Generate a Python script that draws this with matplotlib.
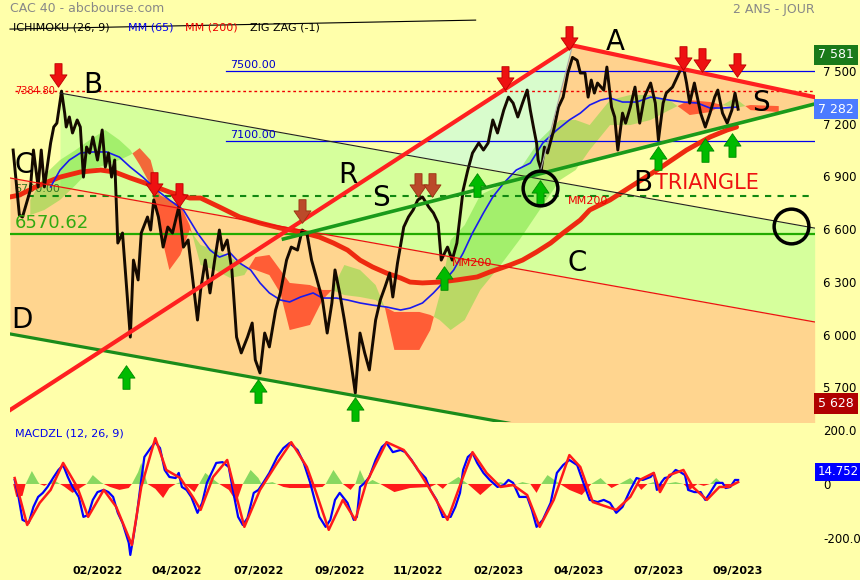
import matplotlib
matplotlib.use('Agg')
import matplotlib.pyplot as plt
import numpy as np
from matplotlib.path import Path

# cours de cloture (index de seance, points)
price_days = [2, 6, 8, 13, 15, 18, 20, 22, 26, 28, 30, 33, 35, 36, 38, 40, 43, 45, 47, 49,
              51, 53, 56, 59, 61, 63, 65, 67, 69, 72, 77, 79, 82, 84, 88, 90, 92, 95, 98, 101,
              104, 108, 111, 114, 116, 120, 122, 125, 128, 131, 134, 136, 139, 142, 145, 148, 152, 155, 157, 160,
              163, 166, 170, 173, 177, 180, 184, 187, 190, 193, 196, 200, 203, 206, 208, 211, 214, 218, 221, 224,
              227, 230, 234, 237, 240, 243, 245, 248, 252, 255, 258, 261, 264, 268, 271, 274, 276, 280, 283, 286,
              288, 290, 293, 296, 300, 303, 306, 309, 312, 316, 319, 322, 325, 328, 331, 333, 335, 337, 338, 340,
              342, 344, 348, 351, 354, 357, 360, 363, 365, 368, 370, 372, 374, 376, 380, 382, 385, 387, 389, 392,
              394, 397, 400, 403, 406, 410, 413, 415, 418, 420, 424, 427, 429, 431, 433, 435, 438, 442, 445, 448,
              451, 453, 456, 459, 462, 464, 466]
price_close = [7050, 6680, 6669, 6822, 7050, 6840, 7050, 6840, 7090, 7181, 7203, 7385, 7260, 7181, 7238, 7147, 7221, 7181, 6896, 7067,
               7033, 7124, 6993, 7164, 6953, 7033, 6896, 6993, 6521, 6578, 5986, 6424, 6311, 6578, 6669, 6595, 6766, 6669, 6498, 6612,
               6578, 6726, 6498, 6538, 6385, 6083, 6254, 6424, 6237, 6424, 6595, 6481, 6538, 6368, 5986, 5896, 5986, 6066, 5856, 5782,
               6009, 5930, 6140, 6237, 6424, 6498, 6481, 6595, 6578, 6424, 6328, 6197, 6009, 6180, 6368, 6237, 6083, 5856, 5668, 6009,
               5896, 5799, 6083, 6197, 6271, 6350, 6214, 6407, 6612, 6669, 6709, 6766, 6783, 6726, 6692, 6635, 6424, 6498, 6424, 6521,
               6669, 6822, 6936, 7033, 7090, 7050, 7090, 7221, 7147, 7277, 7351, 7317, 7238, 7317, 7391, 7277, 7181, 7090, 6993, 6936,
               7067, 7033, 7164, 7294, 7351, 7488, 7577, 7560, 7488, 7488, 7351, 7448, 7374, 7431, 7391, 7522, 7294, 7238, 7050, 7260,
               7203, 7294, 7408, 7203, 7351, 7431, 7317, 7107, 7317, 7374, 7408, 7465, 7505, 7522, 7431, 7317, 7431, 7260, 7181, 7260,
               7351, 7391, 7260, 7203, 7277, 7374, 7282]

# moyennes mobiles
mm65_days = [26, 32, 38, 45, 53, 62, 70, 77, 85, 94, 102, 111, 120, 128, 134, 141, 147, 154, 160, 166,
             173, 179, 186, 194, 200, 209, 216, 224, 232, 241, 250, 256, 264, 271, 277, 284, 290, 296, 303, 309,
             316, 324, 333, 341, 350, 358, 365, 371, 378, 384, 392, 401, 410, 414, 422, 431, 440, 448, 456, 465]
mm65_vals = [6840, 6936, 6993, 7033, 7039, 7039, 7010, 6953, 6896, 6822, 6766, 6709, 6578, 6481, 6441, 6464, 6407, 6368, 6294, 6237,
             6197, 6186, 6214, 6237, 6208, 6208, 6197, 6180, 6168, 6157, 6140, 6151, 6180, 6237, 6294, 6368, 6464, 6578, 6692, 6783,
             6862, 6936, 6976, 7090, 7164, 7221, 7260, 7306, 7334, 7346, 7323, 7323, 7351, 7346, 7334, 7323, 7317, 7289, 7289, 7294]
mm200_days = [0, 6, 19, 32, 45, 58, 67, 77, 90, 102, 115, 122, 134, 147, 160, 173, 186, 198, 207, 216,
              224, 232, 241, 250, 256, 264, 275, 286, 299, 307, 320, 328, 337, 346, 354, 365, 371, 384, 397, 414,
              433, 448, 459, 465]
mm200_vals = [6783, 6794, 6851, 6896, 6925, 6936, 6925, 6891, 6851, 6811, 6777, 6777, 6726, 6669, 6635, 6606, 6584, 6555, 6521, 6481,
              6424, 6385, 6350, 6322, 6299, 6294, 6299, 6311, 6328, 6356, 6396, 6424, 6470, 6521, 6578, 6652, 6709, 6766, 6840, 6936,
              7050, 7124, 7164, 7181]

# nuage ichimoku (projete de 26 seances)
kumo_days = [13, 22, 32, 42, 51, 61, 70, 77, 83, 90, 96, 102, 109, 115, 122, 131, 141, 150, 157, 166,
             173, 179, 192, 200, 206, 214, 224, 234, 240, 246, 262, 269, 275, 282, 291, 301, 314, 326, 339, 352,
             362, 371, 384, 397, 410, 422, 435, 448, 456, 464, 474, 492]
kumo_a = [6766, 6908, 6993, 7050, 7107, 7164, 7107, 7050, 6965, 6851, 6595, 6368, 6453, 6595, 6510, 6481, 6441, 6385, 6368, 6339,
          6237, 6026, 6055, 6197, 6254, 6396, 6368, 6282, 6151, 5913, 5913, 6026, 6225, 6538, 6623, 6794, 6851, 6936, 7107, 7221,
          7221, 7192, 7334, 7363, 7363, 7334, 7249, 7266, 7306, 7346, 7277, 7266]
kumo_b = [6680, 6709, 6766, 6851, 6936, 6965, 6993, 7022, 7061, 6993, 6794, 6766, 6737, 6623, 6396, 6368, 6322, 6339, 6441, 6453,
          6368, 6294, 6282, 6254, 6254, 6225, 6214, 6197, 6157, 6129, 6129, 6112, 6083, 6026, 6083, 6254, 6396, 6538, 6709, 6879,
          6936, 7050, 7192, 7192, 7221, 7277, 7334, 7323, 7306, 7289, 7306, 7300]

# MACD zero lag
macd_days = [3, 5, 8, 12, 15, 18, 21, 24, 28, 31, 34, 37, 40, 44, 47, 50, 53, 56, 60, 63,
             66, 69, 72, 76, 77, 79, 81, 84, 86, 90, 93, 96, 99, 102, 106, 108, 110, 113, 116, 120,
             123, 126, 129, 132, 136, 140, 143, 146, 149, 152, 156, 159, 162, 166, 171, 175, 179, 184, 188, 192,
             195, 198, 202, 205, 208, 211, 216, 220, 222, 224, 227, 230, 234, 238, 241, 245, 250, 253, 257, 261,
             266, 269, 273, 277, 282, 285, 288, 290, 293, 296, 299, 303, 307, 312, 316, 319, 322, 326, 331, 334,
             337, 341, 346, 350, 354, 358, 363, 367, 371, 376, 380, 384, 388, 392, 397, 401, 405, 410, 412, 414,
             417, 419, 422, 426, 429, 432, 434, 438, 442, 445, 448, 452, 456, 458, 461, 464, 466]
macd_vals = [15, -33, -133, -144, -85, -48, -33, -11, 26, 52, 70, 26, -11, -48, -122, -115, -59, -30, -22, -30,
             -48, -107, -144, -218, -263, -196, -122, 15, 100, 133, 155, 133, 52, 26, 22, 41, -11, -22, -48, -107,
             -70, 4, 41, 78, 81, 63, -33, -122, -152, -126, -33, -22, 4, 41, 100, 133, 152, 126, 78, 7,
             -59, -122, -159, -133, -59, -33, -70, -133, -122, -11, 4, 26, 89, 137, 152, 118, 126, 118, 89, 52,
             22, -22, -59, -122, -122, -85, -33, 52, 100, 115, 78, 41, 15, -11, -4, 15, 4, -48, -48, -96,
             -159, -133, -70, 41, 70, 89, 70, 4, -59, -67, -59, -70, -107, -85, -22, 22, 15, 26, 41, -22,
             7, 22, 26, 52, 44, 33, -22, -30, -30, -59, -33, 4, 4, -15, -11, 15, 14.752]
signal_days = [3, 11, 19, 26, 34, 43, 50, 60, 68, 78, 84, 93, 100, 109, 117, 122, 130, 139, 145, 150,
               160, 171, 180, 190, 196, 204, 213, 221, 228, 241, 252, 260, 269, 280, 290, 296, 305, 314, 322, 331,
               339, 348, 358, 365, 373, 388, 397, 403, 412, 416, 422, 431, 437, 446, 454, 460, 466]
signal_vals = [22, -152, -70, -22, 78, -11, -122, -22, -85, -226, -11, 170, 52, 22, -48, -96, 26, 89, -48, -159,
               -22, 78, 155, 63, -33, -170, -59, -133, 4, 155, 126, 63, -22, -133, 26, 118, 41, -11, -4, -41,
               -159, -59, 107, 63, -67, -96, -48, 15, 41, -30, 33, 52, -11, -59, -11, -11, 7]
hist_days = [2, 4, 8, 10, 14, 18, 19, 22, 24, 28, 32, 35, 40, 45, 49, 53, 58, 60, 64, 70,
             76, 78, 82, 84, 88, 93, 98, 102, 106, 109, 112, 118, 121, 125, 129, 134, 140, 145, 149, 154,
             159, 161, 168, 175, 179, 189, 200, 202, 207, 213, 218, 221, 224, 228, 232, 237, 246, 256, 269, 273,
             277, 280, 287, 293, 301, 309, 314, 317, 321, 328, 333, 337, 340, 344, 352, 358, 366, 372, 378, 382,
             385, 390, 397, 401, 404, 408, 412, 416, 419, 426, 431, 435, 440, 444, 448, 452, 456, 459, 462, 464]
hist_vals = [0, -48, -44, 0, 48, 7, 0, -7, 0, 15, 0, -11, -33, -15, 0, 33, 7, 0, -11, -22,
             -15, 0, 44, 78, 0, -18, -52, -15, 0, 7, 0, -30, 0, 41, 22, 0, -22, -67, 0, 52,
             22, 0, 7, -11, -15, -15, -11, 0, 52, 0, -22, 0, 52, 0, 15, 0, -30, -15, -11, 0,
             -18, 0, 26, 0, -41, 0, 7, 0, -7, 7, 0, -33, 0, 33, 0, -22, -41, 0, 22, 0,
             -15, 0, 22, 0, -22, 0, 7, -30, 0, 7, 0, -22, 0, -7, 0, 22, 0, -11, 0, 7]

# lignes horizontales et niveaux
level_7500 = 7500
level_7100 = 7100
level_top = 7384.80
level_6790 = 6790.00
level_6570 = 6570.62
last_close = 7282
highest = 7581
lowest = 5628
last_macd = 14.752

# trace des droites (seance, points)
line_b = ([32, 515], [7374, 6606])
line_c = ([0, 515], [6891, 6072])
line_d = ([0, 515], [6004, 5185])
line_up = ([0, 360], [5571, 7645])
line_tri_top = ([360, 515], [7645, 7351])
line_tri_bot = ([175, 515], [6544, 7312])
line_tri_side = ([360, 339], [7645, 6913])
line_long = ([0, 298], [7738, 7789])
pale_zone = ([252, 360, 338], [7022, 7645, 6896])
tri_zone = ([360, 515, 515, 339], [7645, 7351, 7312, 6913])

# fleches zigzag
down_days = [31, 92, 108, 358, 431, 443, 465, 317]
down_vals = [7476, 6857, 6794, 7687, 7573, 7562, 7533, 7459]
brown_days = [187, 261, 270]
brown_vals = [6703, 6851, 6851]
up_days = [74, 159, 221, 278, 299, 339, 415, 445, 462]
up_vals = [5759, 5679, 5577, 6322, 6851, 6811, 7004, 7050, 7078]
ring_days = [339, 500]
ring_vals = [6834, 6618]

labels_big = ['A', 'B', 'C', 'R', 'S', 'S', 'B', 'C', 'D']
labels_days = [381, 47, 3, 210, 232, 475, 399, 357, 0.5]
labels_vals = [7664, 7420, 6965, 6908, 6777, 7317, 6862, 6407, 6083]

month_pos = [56, 107, 159, 211, 261, 313, 364, 415, 466]
month_lbl = ['02/2022', '04/2022', '07/2022', '09/2022', '11/2022',
             '02/2023', '04/2023', '07/2023', '09/2023']
price_ticks = [5700, 6000, 6300, 6600, 6900, 7200, 7500]

BG = '#ffffaa'
W, H = 860, 580

fig = plt.figure(figsize=(8.6, 5.8), dpi=100, facecolor=BG)
ax = fig.add_axes([10 / W, 158 / H, 805 / W, 404 / H], facecolor=BG)
ax2 = fig.add_axes([10 / W, 14 / H, 805 / W, 143 / H], facecolor=BG, sharex=ax)

ax.set_xlim(0, 515.2)
ax.set_ylim(5503, 7801)
ax2.set_ylim(-304, 226)

# zones
ax.fill_between(line_c[0], line_c[1], line_d[1], color='#ffd58f', lw=0, zorder=1)
ax.fill_between(line_b[0], line_b[1], [6840, 6072], color='#d6ff9c', lw=0, zorder=1)
ax.fill(pale_zone[0], pale_zone[1], color='#d8fccc', lw=0, zorder=1.1)
ax.fill(tri_zone[0], tri_zone[1], color='#ffd28e', lw=0, zorder=1.2)

# ichimoku
ka = np.array(kumo_a)
kb = np.array(kumo_b)
ax.fill_between(kumo_days, ka, kb, where=ka >= kb, interpolate=True,
                color='#66dd33', alpha=0.45, lw=0, zorder=2)
ax.fill_between(kumo_days, ka, kb, where=ka < kb, interpolate=True,
                color='#ff2a10', alpha=0.7, lw=0, zorder=2)

# niveaux horizontaux
ax.plot([138, 515.2], [level_7500] * 2, color='#0000ee', lw=0.9, zorder=3)
ax.plot([138, 515.2], [level_7100] * 2, color='#0000ee', lw=0.9, zorder=3)
ax.plot([3, 515.2], [level_top] * 2, color='#ee0000', lw=1, ls=(0, (2, 2)), zorder=3)
ax.plot([3, 515.2], [level_6790] * 2, color='#118811', lw=1.5, ls=(0, (3, 3)), zorder=3)
ax.plot([0, 515.2], [level_6570] * 2, color='#22aa00', lw=1.6, zorder=3)
ax.text(141, level_7500 + 8, '7500.00', color='#0000cc', fontsize=8, va='bottom', zorder=8)
ax.text(141, level_7100 + 8, '7100.00', color='#0000cc', fontsize=8, va='bottom', zorder=8)
ax.text(3, level_top, '7384.80', color='#ee0000', fontsize=7, va='center', zorder=8)
ax.text(3, level_6790 + 10, '6790.00', color='#337722', fontsize=8, va='bottom', zorder=2.5)
ax.text(3, level_6570 + 12, '6570.62', color='#33aa11', fontsize=13, va='bottom', zorder=8)

# moyennes
ax.plot(mm200_days, mm200_vals, color='#ee2a10', lw=3.5, zorder=4, solid_capstyle='round')
ax.plot(mm65_days, mm65_vals, color='#1a1aee', lw=1.2, zorder=4)
ax.text(283, 6405, 'MM200', color='#ee0000', fontsize=8, va='center', zorder=8)
ax.text(357, 6760, 'MM200', color='#ee0000', fontsize=8, va='center', zorder=8)

# cours
ax.plot(price_days, price_close, color='#150a00', lw=2.1, zorder=5)

# droites
ax.plot(*line_long, color='black', lw=0.8, zorder=6, clip_on=False)
ax.plot(*line_b, color='#222222', lw=0.8, zorder=6)
ax.plot(*line_c, color='#ee1111', lw=0.9, zorder=6)
ax.plot(*line_d, color='#1a8c1a', lw=2.3, zorder=6)
ax.plot(*line_tri_side, color='#aaaaaa', lw=0.8, zorder=6)
ax.plot(*line_up, color='#ff2020', lw=3, zorder=6)
ax.plot(*line_tri_top, color='#ff2020', lw=3, zorder=6)
ax.plot(*line_tri_bot, color='#1a9a1a', lw=2.6, zorder=6)

# fleches
arrow_dn = Path([(-0.3, 1), (0.3, 1), (0.3, 0.05), (0.72, 0.05), (0, -1),
                 (-0.72, 0.05), (-0.3, 0.05), (-0.3, 1)], closed=True)
arrow_up = Path([(x, -y) for x, y in arrow_dn.vertices], closed=True)
ax.plot(down_days, down_vals, ls='none', marker=arrow_dn, ms=17,
        mfc='#ee1111', mec='#bb0000', mew=0.6, zorder=7)
ax.plot(brown_days, brown_vals, ls='none', marker=arrow_dn, ms=17,
        mfc='#bb4a2a', mec='#993311', mew=0.6, zorder=7)
ax.plot(up_days, up_vals, ls='none', marker=arrow_up, ms=17,
        mfc='#00bb00', mec='#008800', mew=0.6, zorder=7)
ax.plot(ring_days, ring_vals, ls='none', marker='o', ms=25, mfc='none',
        mec='black', mew=2.5, zorder=7)

for t, d, v in zip(labels_big, labels_days, labels_vals):
    ax.text(d, v, t, fontsize=20, color='black', va='center', ha='left', zorder=8)
ax.text(413, 6862, 'TRIANGLE', fontsize=15, color='#ee1111', va='center', zorder=8)

# axe de droite
ax.yaxis.tick_right()
ax.set_yticks(price_ticks)
ax.set_yticklabels([f'{p:,}'.replace(',', ' ') for p in price_ticks])
ax.tick_params(axis='y', length=0, labelsize=8.5, pad=6)
ax.tick_params(axis='x', bottom=False, labelbottom=False)
for s in ax.spines.values():
    s.set_visible(False)

# etiquettes encadrees (decalees pour ne pas masquer les graduations)
tr = ax.get_yaxis_transform()
for val, pos, col in [(highest, highest + 10, '#1a7a1a'), (last_close, last_close, '#4b7bff'),
                      (lowest, lowest - 20, '#b00000')]:
    ax.text(1.004, pos, f'{val:,}'.replace(',', ' '), transform=tr, color='white',
            fontsize=9, va='center', ha='left', zorder=9, clip_on=False,
            bbox=dict(boxstyle='square,pad=0.3', fc=col, ec='none'))

# MACD
hd = np.array(hist_days)
hv = np.array(hist_vals)
ax2.fill_between(hd, hv, 0, where=hv >= 0, interpolate=True, color='#88d860', lw=0)
ax2.fill_between(hd, hv, 0, where=hv <= 0, interpolate=True, color='#ff1a1a', lw=0)
ax2.plot(macd_days, macd_vals, color='#0000ff', lw=1.6)
ax2.plot(signal_days, signal_vals, color='#ff1a1a', lw=1.8)
ax2.set_yticks([-200, 0, 200])
ax2.set_yticklabels(['-200.0', '0', '200.0'])
ax2.yaxis.tick_right()
ax2.tick_params(axis='y', length=0, labelsize=8.5, pad=6)
ax2.set_xticks(month_pos)
ax2.set_xticklabels(month_lbl, fontweight='bold')
ax2.tick_params(axis='x', length=0, labelsize=8, pad=0)
for s in ax2.spines.values():
    s.set_visible(False)
ax2.text(1.003, last_macd + 30, f'{last_macd}', transform=ax2.get_yaxis_transform(), color='white',
         fontsize=8.5, va='center', ha='left', clip_on=False, zorder=9,
         bbox=dict(boxstyle='square,pad=0.2', fc='#0000ff', ec='none'))

# en-tetes
fig.text(10 / W, 1 - 9 / H, 'CAC 40 - abcbourse.com', color='#888888', fontsize=9, va='center')
fig.text(815 / W, 1 - 9 / H, '2 ANS - JOUR', color='#888888', fontsize=9, va='center', ha='right')
fig.text(13 / W, 1 - 28 / H, 'ICHIMOKU (26, 9)', color='black', fontsize=8, va='center')
fig.text(128 / W, 1 - 28 / H, 'MM (65)', color='#0000ee', fontsize=8, va='center')
fig.text(185 / W, 1 - 28 / H, 'MM (200)', color='#ee0000', fontsize=8, va='center')
fig.text(250 / W, 1 - 28 / H, 'ZIG ZAG (-1)', color='black', fontsize=8, va='center')
fig.text(15 / W, 1 - 434 / H, 'MACDZL (12, 26, 9)', color='#0000ee', fontsize=8, va='center')

fig.savefig('out.png', dpi=100, facecolor=BG)
